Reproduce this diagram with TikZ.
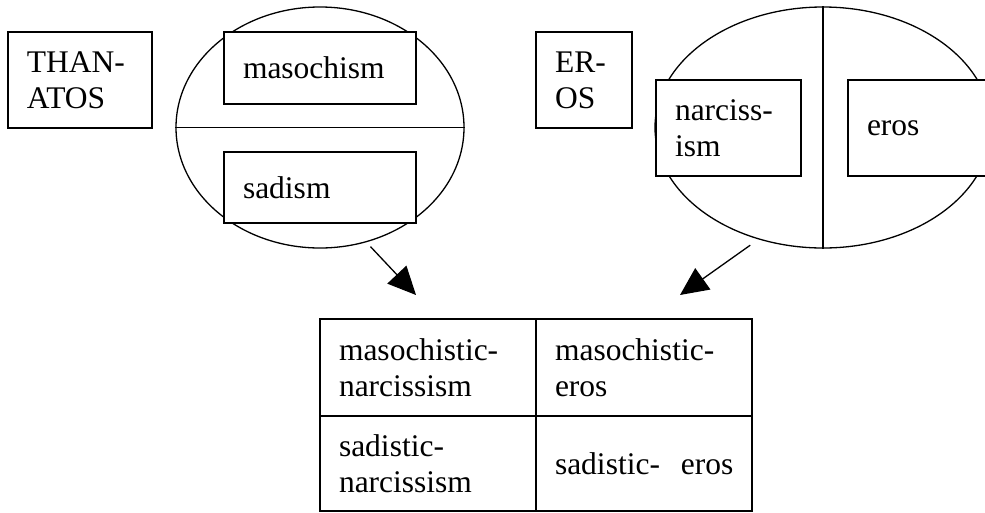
\documentclass[tikz,border=0pt]{standalone}
\usepackage{fontspec}
\setmainfont{Liberation Serif}
\usepackage{tikz}
\usetikzlibrary{shapes.geometric, arrows.meta, positioning}
\tikzset{
  box/.style={
    rectangle, draw, line width=1.6pt, fill=white,
    align=left, inner xsep=19pt, inner ysep=0pt
  },
  ring/.style={ellipse, draw, line width=1.3pt, inner sep=0pt},
  arr/.style={-{Triangle[length=28pt,width=26pt]}, line width=1.3pt}
}

\begin{document}
\begin{tikzpicture}[x=1pt, y=-1pt, font=\fontsize{31.5}{36}\selectfont]

  \useasboundingbox (0,0) rectangle (985,512);

  %% Thanatos side
  \node[box, text width=106pt, minimum height=96pt] (thanatos) at (80,80)
    {THAN-\\ATOS};
  \node[ring, minimum width=288pt, minimum height=241pt] (thanring) at (320,127.5) {};
  \draw[line width=1.3pt] (thanring.west) -- (thanring.east);
  \node[box, text width=154pt, minimum height=72pt] (maso) at (320,68) {masochism};
  \node[box, text width=154pt, minimum height=71pt] (sad) at (320,187.5) {sadism};

  %% Eros side
  \node[box, text width=58pt, minimum height=96pt] (eros) at (584,80)
    {ER-\\OS};
  \node[ring, minimum width=336pt, minimum height=241pt] (erosring) at (823,127.5) {};
  \draw[line width=1.8pt] (erosring.north) -- (erosring.south);
  \node[box, text width=107pt, minimum height=96pt] (narc) at (728.5,128)
    {narciss-\\ism};
  \node[box, text width=132pt, minimum height=96pt] (erosbox) at (933,128) {eros};

  %% Combination table
  \node[box, text width=178pt, minimum height=97pt] (mn) at (428,367.5)
    {masochistic-\\narcissism};
  \node[box, text width=178pt, minimum height=97pt] (me) at (644,367.5)
    {masochistic-\\eros};
  \node[box, text width=178pt, minimum height=95pt] (sn) at (428,463.5)
    {sadistic-\\narcissism};
  \node[box, text width=178pt, minimum height=95pt] (se) at (644,463.5)
    {\mbox{sadistic-\ \ eros}};

  \coordinate (tipL) at (416,295);
  \coordinate (tipR) at (680,295);
  \draw[arr, shorten <=6pt] (thanring.-68) -- (tipL);
  \draw[arr, shorten <=10pt] (erosring.-120.6) -- (tipR);

\end{tikzpicture}
\end{document}
